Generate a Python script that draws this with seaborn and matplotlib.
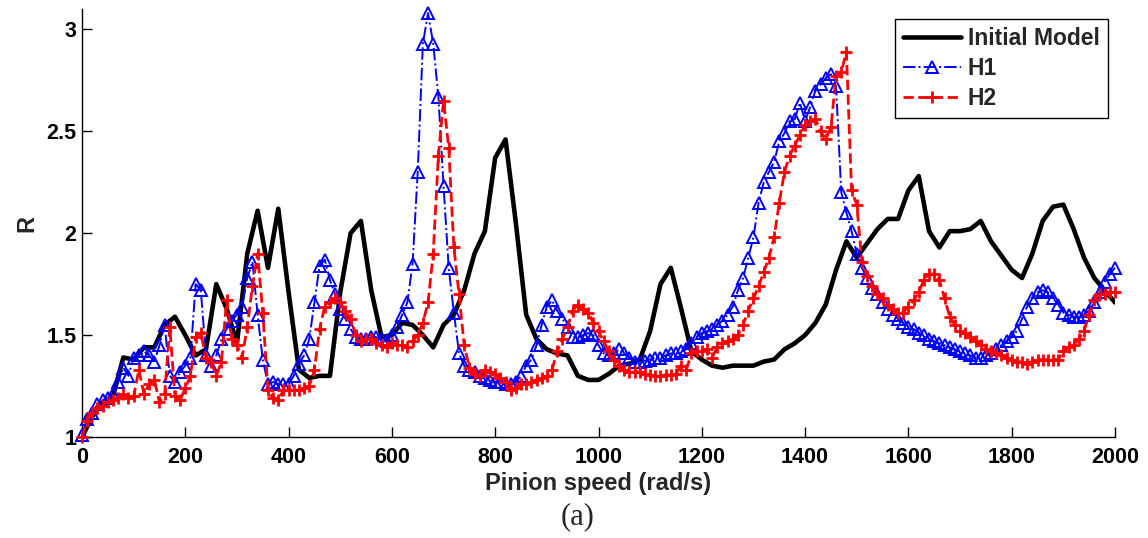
import matplotlib
matplotlib.use("Agg")
import matplotlib.pyplot as plt
import seaborn as sns
from matplotlib.ticker import FuncFormatter

# ---------------- data ----------------
speed_initial = list(range(0, 2001, 20))
r_initial = [
    1.00, 1.10, 1.17, 1.20, 1.39, 1.38, 1.44, 1.44, 1.55, 1.59,
    1.50, 1.40, 1.43, 1.75, 1.63, 1.46, 1.90, 2.11, 1.83, 2.12,
    1.71, 1.33, 1.29, 1.30, 1.30, 1.71, 2.00, 2.06, 1.72, 1.49,
    1.50, 1.56, 1.55, 1.50, 1.44, 1.55, 1.60, 1.72, 1.90, 2.01,
    2.37, 2.46, 2.05, 1.60, 1.48, 1.43, 1.41, 1.40, 1.30, 1.28,
    1.28, 1.31, 1.35, 1.36, 1.38, 1.52, 1.75, 1.83, 1.63, 1.42,
    1.38, 1.35, 1.34, 1.35, 1.35, 1.35, 1.37, 1.38, 1.43, 1.46,
    1.50, 1.56, 1.65, 1.82, 1.96, 1.88, 1.95, 2.02, 2.07, 2.07,
    2.21, 2.28, 2.01, 1.93, 2.01, 2.01, 2.02, 2.06, 1.96, 1.89,
    1.82, 1.78, 1.90, 2.06, 2.13, 2.14, 2.02, 1.88, 1.78, 1.72,
    1.66,
]

speed_h = list(range(0, 2001, 10))
r_h1 = [
    1.01, 1.09, 1.12, 1.16, 1.18, 1.19, 1.21, 1.27, 1.34, 1.30,
    1.39, 1.40, 1.42, 1.40, 1.37, 1.45, 1.55, 1.30, 1.27, 1.32,
    1.35, 1.39, 1.75, 1.72, 1.40, 1.35, 1.40, 1.48, 1.53, 1.57,
    1.60, 1.64, 1.78, 1.86, 1.60, 1.38, 1.26, 1.27, 1.26, 1.26,
    1.26, 1.30, 1.36, 1.40, 1.48, 1.66, 1.84, 1.87, 1.77, 1.70,
    1.63, 1.58, 1.53, 1.49, 1.48, 1.48, 1.49, 1.49, 1.48, 1.47,
    1.50, 1.54, 1.60, 1.66, 1.85, 2.30, 2.93, 3.08, 2.93, 2.67,
    2.23, 1.83, 1.61, 1.41, 1.35, 1.33, 1.32, 1.30, 1.29, 1.28,
    1.27, 1.27, 1.26, 1.26, 1.27, 1.30, 1.35, 1.38, 1.45, 1.55,
    1.64, 1.67, 1.62, 1.58, 1.54, 1.49, 1.49, 1.50, 1.51, 1.50,
    1.45, 1.41, 1.40, 1.41, 1.43, 1.41, 1.39, 1.37, 1.37, 1.375,
    1.38, 1.39, 1.39, 1.40, 1.41, 1.41, 1.42, 1.43, 1.46, 1.49,
    1.51, 1.52, 1.53, 1.55, 1.57, 1.60, 1.64, 1.72, 1.78, 1.88,
    1.98, 2.15, 2.25, 2.30, 2.35, 2.45, 2.49, 2.55, 2.56, 2.64,
    2.55, 2.62, 2.70, 2.73, 2.76, 2.78, 2.72, 2.20, 2.10, 2.01,
    1.90, 1.83, 1.78, 1.73, 1.70, 1.66, 1.63, 1.60, 1.58, 1.56,
    1.54, 1.53, 1.51, 1.50, 1.48, 1.47, 1.46, 1.45, 1.44, 1.43,
    1.42, 1.41, 1.40, 1.39, 1.39, 1.40, 1.41, 1.43, 1.45, 1.47,
    1.49, 1.52, 1.58, 1.64, 1.68, 1.71, 1.72, 1.71, 1.68, 1.65,
    1.61, 1.60, 1.59, 1.59, 1.60, 1.62, 1.66, 1.71, 1.76, 1.80,
    1.83,
]
r_h2 = [
    1.00, 1.08, 1.12, 1.14, 1.15, 1.17, 1.18, 1.19, 1.21, 1.19,
    1.20, 1.33, 1.21, 1.26, 1.28, 1.17, 1.21, 1.54, 1.20, 1.18,
    1.24, 1.30, 1.49, 1.51, 1.39, 1.37, 1.30, 1.37, 1.67, 1.48,
    1.45, 1.39, 1.54, 1.74, 1.90, 1.61, 1.23, 1.19, 1.18, 1.23,
    1.23, 1.23, 1.23, 1.24, 1.25, 1.33, 1.53, 1.64, 1.66, 1.68,
    1.66, 1.62, 1.58, 1.50, 1.47, 1.48, 1.48, 1.46, 1.45, 1.44,
    1.46, 1.45, 1.45, 1.44, 1.47, 1.50, 1.56, 1.66, 1.90, 2.38,
    2.65, 2.42, 1.93, 1.70, 1.45, 1.34, 1.31, 1.30, 1.33, 1.32,
    1.31, 1.29, 1.27, 1.23, 1.24, 1.26, 1.26, 1.27, 1.28, 1.29,
    1.30, 1.33, 1.42, 1.48, 1.54, 1.62, 1.65, 1.63, 1.61, 1.56,
    1.52, 1.47, 1.42, 1.38, 1.35, 1.33, 1.32, 1.32, 1.32, 1.31,
    1.305, 1.30, 1.30, 1.305, 1.305, 1.31, 1.35, 1.33, 1.41, 1.42,
    1.42, 1.43, 1.39, 1.44, 1.46, 1.47, 1.48, 1.50, 1.55, 1.62,
    1.68, 1.74, 1.81, 1.88, 1.98, 2.15, 2.30, 2.38, 2.43, 2.48,
    2.53, 2.55, 2.56, 2.50, 2.46, 2.52, 2.77, 2.79, 2.89, 2.21,
    2.14, 1.86, 1.79, 1.74, 1.70, 1.68, 1.65, 1.63, 1.61, 1.61,
    1.64, 1.67, 1.71, 1.77, 1.80, 1.80, 1.77, 1.68, 1.59, 1.55,
    1.52, 1.51, 1.49, 1.47, 1.45, 1.43, 1.42, 1.41, 1.40, 1.39,
    1.38, 1.37, 1.37, 1.36, 1.37, 1.38, 1.38, 1.38, 1.38, 1.38,
    1.42, 1.44, 1.45, 1.48, 1.52, 1.60, 1.67, 1.70, 1.70, 1.71,
    1.71,
]

x_ticks = [0, 200, 400, 600, 800, 1000, 1200, 1400, 1600, 1800, 2000]
y_ticks = [1, 1.5, 2, 2.5, 3]

# ---------------- style ----------------
sns.set_style("ticks")
plt.rcParams['font.family'] = ['Liberation Sans', 'DejaVu Sans']
plt.rcParams['legend.numpoints'] = 1

W, H = 1148, 538
fig = plt.figure(figsize=(W / 100, H / 100), dpi=100)
ax = fig.add_axes([82 / W, 101 / H, 1033 / W, 428 / H])

sns.lineplot(x=speed_initial, y=r_initial, ax=ax, color='black', linewidth=3.3,
             label='Initial Model', zorder=2)
sns.lineplot(x=speed_h, y=r_h1, ax=ax, color='blue', linewidth=1.4, linestyle='-.',
             marker='^', markersize=8, markerfacecolor='none', markeredgecolor='blue',
             markeredgewidth=1.4, label='H1', zorder=3, clip_on=False)
sns.lineplot(x=speed_h, y=r_h2, ax=ax, color='red', linewidth=2.0, linestyle='--',
             dashes=(3.5, 2.0), marker='+', markersize=9, markeredgecolor='red',
             markeredgewidth=2.0, label='H2', zorder=4, clip_on=False)

ax.set_xlim(0, 2000)
ax.set_ylim(1, 3.1)
ax.set_xticks(x_ticks)
ax.set_yticks(y_ticks)
ax.yaxis.set_major_formatter(FuncFormatter(lambda v, p: f"{v:g}"))
ax.tick_params(direction='in', length=7, width=1.0, top=False, right=False,
               labelsize=15.5, colors='black')
ax.tick_params(axis='x', pad=7)
ax.tick_params(axis='y', pad=4)
for lab in ax.get_xticklabels() + ax.get_yticklabels():
    lab.set_fontweight('bold')

for side in ['top', 'right']:
    ax.spines[side].set_visible(False)
for side in ['left', 'bottom']:
    ax.spines[side].set_color('black')
    ax.spines[side].set_linewidth(1.0)

ax.set_xlabel('Pinion speed (rad/s)', fontsize=17, fontweight='bold', labelpad=3)
ax.set_ylabel('R', fontsize=17, fontweight='bold', labelpad=6)

leg = ax.legend(loc='upper right', bbox_to_anchor=(0.993, 0.977), borderaxespad=0,
                frameon=True, fancybox=False, edgecolor='black', framealpha=1,
                prop={'weight': 'bold', 'size': 16.5}, handlelength=2.5,
                labelspacing=0.3, handletextpad=0.3, borderpad=0.36)
leg.get_frame().set_linewidth(1.0)

fig.text(578 / W, 1 - 517 / H, '(a)', ha='center', va='center', fontsize=22,
         family=['Liberation Serif', 'DejaVu Serif'])

fig.savefig('out.png', dpi=100)
